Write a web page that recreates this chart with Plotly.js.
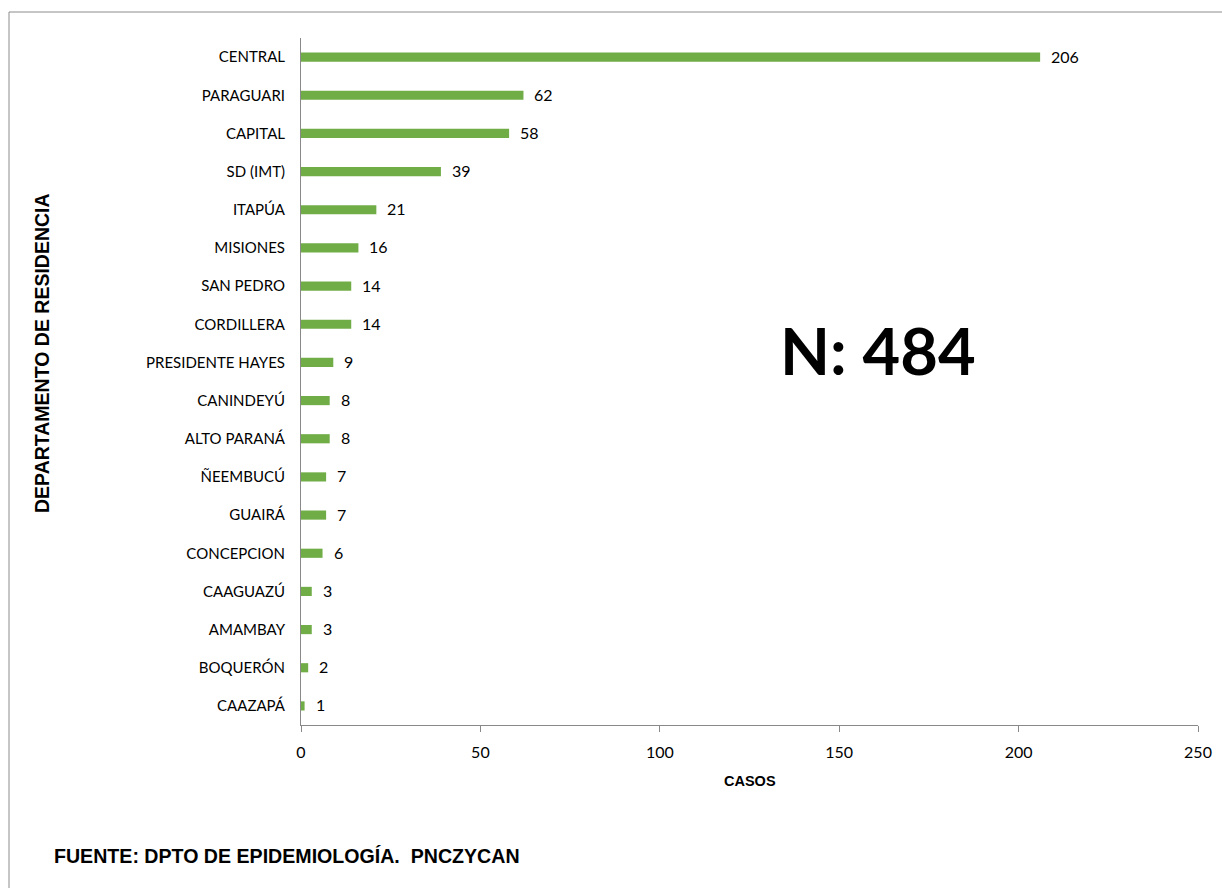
<!DOCTYPE html>
<html>
<head>
<meta charset="utf-8">
<script src="https://cdn.plot.ly/plotly-3.0.1.min.js"></script>
<style>html,body{margin:0;padding:0;background:#fff;}#chart{width:1222px;height:888px;}</style>
</head>
<body>
<div id="chart"></div>
<script>
const categories = ["CENTRAL","PARAGUARI","CAPITAL","SD (IMT)","ITAPÚA","MISIONES","SAN PEDRO","CORDILLERA","PRESIDENTE HAYES","CANINDEYÚ","ALTO PARANÁ","ÑEEMBUCÚ","GUAIRÁ","CONCEPCION","CAAGUAZÚ","AMAMBAY","BOQUERÓN","CAAZAPÁ"];
const casos = [206,62,58,39,21,16,14,14,9,8,8,7,7,6,3,3,2,1];
const xTicks = [0,50,100,150,200,250];
const totalLabel = "N: 484";
const yTitle = "DEPARTAMENTO DE RESIDENCIA";
const xTitle = "CASOS";
const footer = "FUENTE: DPTO DE EPIDEMIOLOGÍA.  PNCZYCAN";

const labelFont = {family: "Lato, 'Open Sans', sans-serif", size: 15, color: "#000"};
const valueFont = {family: "Lato, 'Open Sans', sans-serif", size: 16, color: "#000"};

const trace = {
  type: "bar",
  orientation: "h",
  x: casos,
  y: categories,
  marker: {color: "#70AD47"},
  width: 0.24,
  hoverinfo: "x+y"
};

const valueAnnotations = casos.map((v, i) => ({
  x: v, y: categories[i], xref: "x", yref: "y",
  text: String(v), showarrow: false, xanchor: "left", yanchor: "middle",
  xshift: 9, yshift: 1, font: valueFont
}));

const layout = {
  width: 1222, height: 888,
  margin: {l: 301, r: 24, t: 38, b: 163},
  paper_bgcolor: "#fff", plot_bgcolor: "#fff",
  showlegend: false,
  xaxis: {
    range: [0, 250], tickvals: xTicks, ticktext: xTicks.map(String),
    showgrid: false, zeroline: false,
    showline: true, linecolor: "#898989", linewidth: 1,
    ticks: "outside", ticklen: 6, tickcolor: "#898989",
    ticklabelstandoff: 7,
    tickfont: valueFont, fixedrange: true
  },
  yaxis: {
    type: "category", categoryorder: "array", categoryarray: categories.slice().reverse(),
    showgrid: false, zeroline: false,
    showline: true, linecolor: "#898989", linewidth: 1,
    ticks: "", ticklabelstandoff: 12,
    tickfont: labelFont, fixedrange: true
  },
  shapes: [
    {type: "line", xref: "paper", yref: "paper", x0: (9-301)/897, x1: (1240-301)/897, y0: (725-12)/687, y1: (725-12)/687, line: {color: "#8c8c8c", width: 1}},
    {type: "line", xref: "paper", yref: "paper", x0: (9-301)/897, x1: (9-301)/897, y0: (725-12)/687, y1: (725-900)/687, line: {color: "#8c8c8c", width: 1}}
  ],
  annotations: valueAnnotations.concat([
    {x: (878-301)/897, y: (725-350)/687, xref: "paper", yref: "paper", text: "<b>" + totalLabel + "</b>", showarrow: false,
     xanchor: "center", yanchor: "middle", font: {family: "Lato, 'Open Sans', sans-serif", size: 65, color: "#000"}},
    {x: (42-301)/897, y: (725-353)/687, xref: "paper", yref: "paper", text: "<b>" + yTitle + "</b>", showarrow: false,
     textangle: -90, xanchor: "center", yanchor: "middle", font: {family: "Arial, 'Liberation Sans', sans-serif", size: 19.5, color: "#000"}},
    {x: (750-301)/897, y: (725-781)/687, xref: "paper", yref: "paper", text: "<b>" + xTitle + "</b>", showarrow: false,
     xanchor: "center", yanchor: "middle", font: {family: "Arial, 'Liberation Sans', sans-serif", size: 14.5, color: "#000"}},
    {x: (52-301)/897, y: (725-856)/687, xref: "paper", yref: "paper", text: "<b>" + footer + "</b>", showarrow: false,
     xanchor: "left", yanchor: "middle", font: {family: "Arial, 'Liberation Sans', sans-serif", size: 19.6, color: "#000"}}
  ])
};

Plotly.newPlot("chart", [trace], layout, {displayModeBar: false, staticPlot: true});
</script>
</body>
</html>
